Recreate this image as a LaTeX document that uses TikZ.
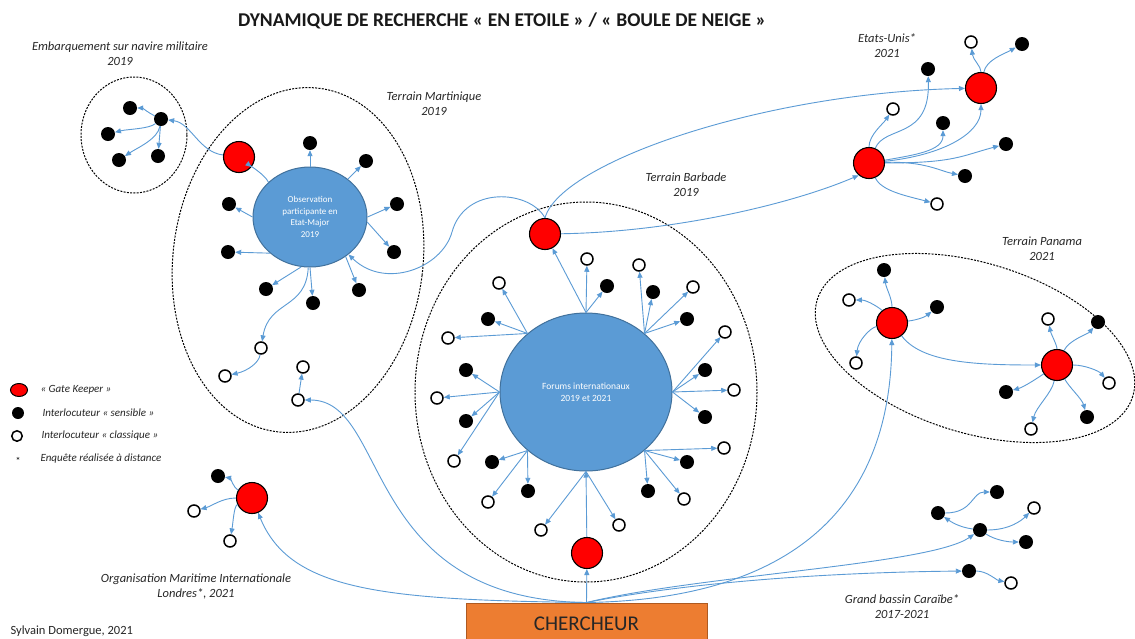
\documentclass[tikz,border=0pt]{standalone}
\usepackage{fontspec}
\setmainfont{Carlito}
\usetikzlibrary{arrows.meta,shapes.geometric}
\definecolor{ab}{RGB}{91,155,213}
\definecolor{cblue}{RGB}{91,155,213}
\definecolor{cbord}{RGB}{65,113,156}
\definecolor{corange}{RGB}{237,125,49}
\definecolor{cobord}{RGB}{174,90,33}
\begin{document}
\begin{tikzpicture}[x=1pt,y=-1pt,
  gk/.style={circle,draw=black,line width=1.1pt,fill=red,minimum size=31pt,inner sep=0pt},
  sb/.style={circle,fill=black,minimum size=14pt,inner sep=0pt},
  cw/.style={circle,draw=black,line width=1.5pt,fill=white,minimum size=12pt,inner sep=0pt},
  ar/.style={draw=ab,line width=0.9pt,-{Triangle[length=6pt,width=5pt]}},
  zone/.style={draw=black,line width=1pt,dash pattern=on 2pt off 1.3pt},
  lbl/.style={font=\itshape\fontsize{12.5}{15}\selectfont,align=center,text=black!85},
  leg/.style={font=\itshape\fontsize{11}{13}\selectfont,anchor=west,text=black!85},
  bigc/.style={ellipse,fill=cblue,draw=cbord,line width=1pt,inner sep=0pt,text=white,align=center}
]
\useasboundingbox (0,0) rectangle (1135,638);
\fill[white] (0,0) rectangle (1135,638);

% zones
\draw[zone] (134,135) ellipse [x radius=53,y radius=58];
\draw[zone,rotate around={-7:(298,260)}] (298,260) ellipse [x radius=125,y radius=173];
\draw[zone] (586,392) ellipse [x radius=171,y radius=190];
\draw[zone,rotate around={-17:(975,348)}] (975,348) ellipse [x radius=165,y radius=85];

% texts
\node[font=\bfseries\fontsize{19.5}{23}\selectfont,text=black!90] (title) at (502,21) {DYNAMIQUE DE RECHERCHE « EN ETOILE » / « BOULE DE NEIGE »};
\node[lbl] (tEmb) at (120,54) {Embarquement sur navire militaire\\2019};
\node[lbl] (tMar) at (434,104) {Terrain Martinique\\2019};
\node[lbl] (tBar) at (686,185) {Terrain Barbade\\2019};
\node[lbl] (tEU) at (887,46) {Etats-Unis*\\2021};
\node[lbl] (tPan) at (1042,249) {Terrain Panama\\2021};
\node[lbl] (tOMI) at (196,586) {Organisation Maritime Internationale\\Londres*, 2021};
\node[lbl] (tGBC) at (902,607) {Grand bassin Caraïbe*\\2017-2021};
\node[font=\fontsize{12.5}{14}\selectfont,anchor=west,text=black!85] (sign) at (7,631) {Sylvain Domergue, 2021};

% legend
\node[ellipse,fill=red,draw=black,line width=1pt,minimum width=17pt,minimum height=13pt,inner sep=0pt] (lg1) at (19,390) {};
\node[sb,minimum size=12pt] (lg2) at (18,413) {};
\node[cw,minimum size=10.5pt] (lg3) at (17,436) {};
\node[font=\fontsize{10}{12}\selectfont] (lg4) at (18,461) {*};
\node[leg] (lt1) at (37,390) {« Gate Keeper »};
\node[leg] (lt2) at (39,413) {Interlocuteur « sensible »};
\node[leg] (lt3) at (38,436) {Interlocuteur « classique »};
\node[leg] (lt4) at (37,459) {Enquête réalisée à distance};

% big nodes
\node[bigc,minimum width=114pt,minimum height=100pt,font=\fontsize{9}{11.7}\selectfont] (obs) at (310,217) {Observation\\participante en\\Etat-Major\\2019};
\node[bigc,minimum width=172pt,minimum height=158pt,font=\fontsize{9.5}{12.5}\selectfont] (forum) at (586,392) {Forums internationaux\\2019 et 2021};
\node[rectangle,fill=corange,draw=cobord,line width=1pt,minimum width=241pt,minimum height=44pt,font=\fontsize{21}{25}\selectfont,text=black!85] (ch) at (586.5,625) {\raisebox{2.5pt}{CHERCHEUR}};

% Embarquement
\node[sb] (e0) at (161,119) {};
\node[sb] (e1) at (130,108) {};
\node[sb] (e2) at (108,134) {};
\node[sb] (e3) at (119,160) {};
\node[sb] (e4) at (158,156) {};

% Martinique
\node[gk] (gkM) at (239,157) {};
\node[sb] (mb1) at (310,143) {};
\node[sb] (mb2) at (366,161) {};
\node[sb] (mb3) at (397,204) {};
\node[sb] (mb4) at (394,252) {};
\node[sb] (mb5) at (359,290) {};
\node[sb] (mb6) at (313,303) {};
\node[sb] (mb7) at (266,289) {};
\node[sb] (mb8) at (228,252) {};
\node[sb] (mb9) at (229,204) {};
\node[cw] (mw1) at (261,348) {};
\node[cw] (mw2) at (225,376) {};
\node[cw] (mw3) at (303,367) {};
\node[cw] (mw4) at (298,400) {};

% Forums / Barbade
\node[gk] (gkB) at (545,234) {};
\node[gk] (gkF) at (587,553) {};
\node[cw] (fw1) at (587,259) {};
\node[sb] (fb1) at (607,286) {};
\node[cw] (fw2) at (499,283) {};
\node[sb] (fb2) at (488,319) {};
\node[cw] (fw3) at (448,338) {};
\node[cw] (fw4) at (639,265) {};
\node[sb] (fb3) at (653,292) {};
\node[cw] (fw5) at (693,287) {};
\node[sb] (fb4) at (687,319) {};
\node[cw] (fw6) at (725,332) {};
\node[sb] (fb5) at (705,370) {};
\node[cw] (fw7) at (734,390) {};
\node[sb] (fb6) at (705,417) {};
\node[cw] (fw8) at (724,448) {};
\node[sb] (fb7) at (687,462) {};
\node[sb] (fb8) at (648,491) {};
\node[cw] (fw9) at (684,499) {};
\node[cw] (fw10) at (619,525) {};
\node[cw] (fw11) at (541,530) {};
\node[sb] (fb9) at (466,370) {};
\node[cw] (fw12) at (437,398) {};
\node[sb] (fb10) at (466,421) {};
\node[cw] (fw13) at (454,461) {};
\node[sb] (fb11) at (492,462) {};
\node[sb] (fb12) at (528,491) {};
\node[cw] (fw14) at (488,502) {};

% Etats-Unis
\node[gk] (u1) at (869,163) {};
\node[gk] (u2) at (981,88) {};
\node[cw] (uw1) at (893,109) {};
\node[sb] (ub1) at (928,69) {};
\node[sb] (ub2) at (943,123) {};
\node[sb] (ub3) at (1006,144) {};
\node[sb] (ub4) at (965,176) {};
\node[cw] (uw2) at (937,204) {};
\node[cw] (uw3) at (971,42) {};
\node[sb] (ub5) at (1022,44) {};

% Panama
\node[gk] (p1) at (892,323) {};
\node[gk] (p2) at (1057,365) {};
\node[sb] (pb1) at (884,270) {};
\node[cw] (pw1) at (849,300) {};
\node[sb] (pb2) at (937,307) {};
\node[cw] (pw2) at (856,363) {};
\node[cw] (pw3) at (1048,319) {};
\node[sb] (pb3) at (1098,322) {};
\node[cw] (pw4) at (1109,383) {};
\node[sb] (pb4) at (1087,417) {};
\node[cw] (pw5) at (1031,429) {};
\node[sb] (pb5) at (1006,392) {};

% Grand bassin
\node[sb] (gA) at (938,513) {};
\node[sb] (gB) at (997,492) {};
\node[cw] (gC) at (1034,508) {};
\node[sb] (gD) at (980,530) {};
\node[sb] (gE) at (1026,542) {};
\node[sb] (gF) at (969,571) {};
\node[cw] (gG) at (1011,583) {};

% Londres
\node[gk] (gL) at (252,498) {};
\node[sb] (lb) at (218,476) {};
\node[cw] (lw1) at (194,511) {};
\node[cw] (lw2) at (230,541) {};

% ---- connectors ----
% Embarquement
\draw[ar] (gkM) .. controls +(-40,-5) and +(30,4) .. (e0);
\draw[ar] (e0) .. controls +(-12,-6) and +(12,0) .. (e1);
\draw[ar] (e0) .. controls +(-12,10) and +(20,-5) .. (e2);
\draw[ar] (e0) .. controls +(-3,20) and +(18,-12) .. (e3);
\draw[ar] (e0) -- (e4);

% Martinique
\draw[ar] (obs.north) -- (mb1);
\draw[ar] (obs.45) -- (mb2);
\draw[ar] (obs.east) -- (mb3);
\draw[ar] (obs.-5) -- (mb4);
\draw[ar] (obs.-48) -- (mb5);
\draw[ar] (obs.south) -- (mb6);
\draw[ar] (obs.-100) -- (mb7);
\draw[ar] (obs.-138) -- (mb8);
\draw[ar] (obs.180) -- (mb9);
\draw[ar] (obs.140) .. controls +(-4,-8) and +(10,8) .. (gkM);
\draw[ar] (obs.-92) .. controls +(-2,42) and +(8,-48) .. (mw1);
\draw[ar] (mw1) .. controls +(-2,15) and +(22,-5) .. (mw2);
\draw[ar] (mw4) -- (mw3);

% Barbade
\draw[ar] (gkB.north) .. controls (530,190) and (465,185) .. (452,232) .. controls (442,268) and (385,290) .. (obs);
\draw[ar] (gkB) .. controls +(130,-2) and +(-65,28) .. (u1.-130);
\draw[ar] (gkB.north) .. controls +(15,-55) and +(-220,5) .. (u2);

% Forums
\draw[ar] (forum.north) -- (gkB);
\draw[ar] (forum.north) -- (fw1);
\draw[ar] (forum.north) -- (fb1);
\draw[ar] (forum.135) -- (fw2);
\draw[ar] (forum.135) -- (fb2);
\draw[ar] (forum.135) -- (fw3);
\draw[ar] (forum.45) -- (fw4);
\draw[ar] (forum.45) -- (fb3);
\draw[ar] (forum.45) -- (fw5);
\draw[ar] (forum.45) -- (fb4);
\draw[ar] (forum.east) -- (fw6);
\draw[ar] (forum.east) -- (fb5);
\draw[ar] (forum.east) -- (fw7);
\draw[ar] (forum.east) -- (fb6);
\draw[ar] (forum.-45) -- (fw8);
\draw[ar] (forum.-45) -- (fb7);
\draw[ar] (forum.-45) -- (fb8);
\draw[ar] (forum.-45) -- (fw9);
\draw[ar] (forum.south) -- (fw10);
\draw[ar] (forum.south) -- (fw11);
\draw[ar] (forum.west) -- (fb9);
\draw[ar] (forum.west) -- (fw12);
\draw[ar] (forum.west) -- (fb10);
\draw[ar] (forum.west) -- (fw13);
\draw[ar] (forum.-135) -- (fb11);
\draw[ar] (forum.-135) -- (fb12);
\draw[ar] (forum.-135) -- (fw14);
\draw[ar] (gkF) -- (forum.south);

% Etats-Unis
\draw[ar] (u1) .. controls +(0,-28) and +(-10,15) .. (uw1);
\draw[ar] (u1) .. controls (885,125) and (930,140) .. (ub1);
\draw[ar] (u1) .. controls +(45,-8) and +(0,28) .. (ub2);
\draw[ar] (u1) .. controls +(75,-8) and +(0,45) .. (u2);
\draw[ar] (u1) .. controls +(85,0) and +(-45,12) .. (ub3);
\draw[ar] (u1) .. controls +(55,-2) and +(-25,-5) .. (ub4);
\draw[ar] (u1) .. controls +(12,28) and +(-30,-8) .. (uw2);
\draw[ar] (u2) .. controls +(0,-22) and +(2,18) .. (uw3);
\draw[ar] (u2) .. controls +(5,-28) and +(-18,10) .. (ub5);

% Panama
\draw[ar] (p1) .. controls +(0,-25) and +(2,18) .. (pb1);
\draw[ar] (p1) .. controls +(-12,-15) and +(18,0) .. (pw1);
\draw[ar] (p1) .. controls +(25,-3) and +(-12,10) .. (pb2);
\draw[ar] (p1) .. controls +(-22,5) and +(2,-22) .. (pw2);
\draw[ar] (p1) .. controls +(30,40) and +(-80,0) .. (p2);
\draw[ar] (p2) .. controls +(0,-20) and +(3,15) .. (pw3);
\draw[ar] (p2) .. controls +(12,-25) and +(-10,12) .. (pb3);
\draw[ar] (p2) .. controls +(28,0) and +(-10,-12) .. (pw4);
\draw[ar] (p2) .. controls +(12,22) and +(-5,-18) .. (pb4);
\draw[ar] (p2) .. controls +(-5,28) and +(5,-22) .. (pw5);
\draw[ar] (p2) .. controls +(-18,12) and +(18,-5) .. (pb5);

% Grand bassin
\draw[ar] (gA) .. controls +(35,0) and +(-25,0) .. (gB);
\draw[ar] (gD) .. controls +(-22,-3) and +(12,8) .. (gA);
\draw[ar] (gD) .. controls +(30,0) and +(-12,12) .. (gC);
\draw[ar] (gD) .. controls +(15,10) and +(-18,0) .. (gE);
\draw[ar] (gF) .. controls +(18,0) and +(-15,-3) .. (gG);

% Londres
\draw[ar] (gL) .. controls +(-18,-10) and +(12,2) .. (lb);
\draw[ar] (gL) .. controls +(-30,0) and +(18,-5) .. (lw1);
\draw[ar] (gL) .. controls +(-18,8) and +(3,-18) .. (lw2);

% Chercheur
\draw[ar] (ch.north) -- (gkF);
\draw[ar] (ch.north) .. controls (380,600) and (290,590) .. (gL);
\draw[ar] (ch.north) .. controls (360,600) and (390,400) .. (mw4);
\draw[ar] (ch.north) .. controls (750,600) and (890,540) .. (p1);
\draw[ar] (ch.north) .. controls (700,575) and (930,565) .. (gD);
\draw[ar] (ch.north) .. controls (700,580) and (850,572) .. (gF);
\end{tikzpicture}
\end{document}
